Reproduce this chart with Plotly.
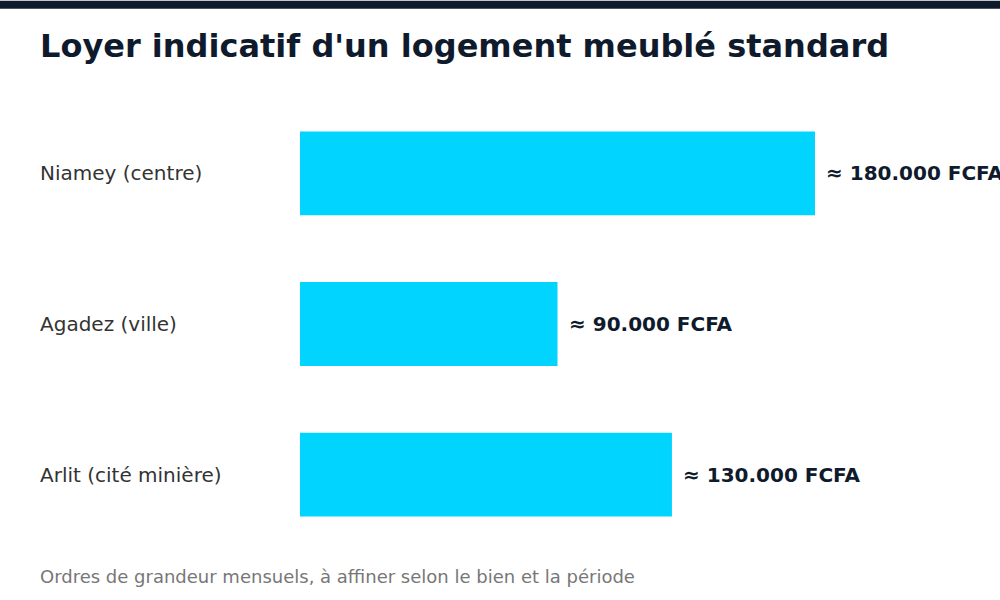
import plotly.graph_objects as go

categories = ["Niamey (centre)", "Agadez (ville)", "Arlit (cité minière)"]
loyers = [180000, 90000, 130000]
labels = ["≈ 180.000 FCFA", "≈ 90.000 FCFA", "≈ 130.000 FCFA"]

title = "Loyer indicatif d'un logement meublé standard"
footnote = "Ordres de grandeur mensuels, à affiner selon le bien et la période"

W, H = 1000, 600
L, R, T, B = 300, 0, 97.5, 49.5
pw, ph = W - L - R, H - T - B
px_per_unit = 515 / 180000
xmax = pw / px_per_unit

def px_x(x):
    return (x - L) / pw

def px_y(y):
    return (H - B - y) / ph

fig = go.Figure(go.Bar(
    x=loyers, y=categories, orientation="h",
    marker=dict(color="#00D4FF", line=dict(width=0)),
    width=84 / 151, hoverinfo="skip",
))

ann = []
for c, v, t in zip(categories, loyers, labels):
    ann.append(dict(x=v, y=c, xref="x", yref="y", text=t, showarrow=False,
                    xanchor="left", yanchor="middle", xshift=9,
                    font=dict(family="DejaVu Sans", size=20, color="#0f1b2d", weight="bold")))
    ann.append(dict(x=px_x(38), y=c, xref="paper", yref="y", text=c, showarrow=False,
                    xanchor="left", yanchor="middle",
                    font=dict(family="DejaVu Sans", size=20, color="#333333")))
ann.append(dict(x=px_x(38), y=px_y(577), xref="paper", yref="paper", text=footnote,
                showarrow=False, xanchor="left", yanchor="middle",
                font=dict(family="DejaVu Sans", size=18, color="#777777")))

fig.update_layout(
    width=W, height=H,
    margin=dict(l=L, r=R, t=T, b=B, pad=0),
    paper_bgcolor="white", plot_bgcolor="white",
    showlegend=False,
    title=dict(text="<b>" + title + "</b>", x=0.04, xref="container", xanchor="left",
               y=1 - 46 / H, yref="container", yanchor="middle",
               font=dict(family="DejaVu Sans", size=32, color="#0f1b2d")),
    xaxis=dict(range=[0, xmax], visible=False, fixedrange=True),
    yaxis=dict(autorange="reversed", showticklabels=False, showgrid=False,
               zeroline=False, showline=False, ticks=""),
    annotations=ann,
    shapes=[dict(type="rect", xref="paper", yref="paper",
                 x0=px_x(0), x1=px_x(1000), y0=px_y(8), y1=px_y(0),
                 fillcolor="#0f1b2d", line=dict(width=0), layer="above")],
)
fig.update_traces(cliponaxis=False)

fig.write_html("out.html")
